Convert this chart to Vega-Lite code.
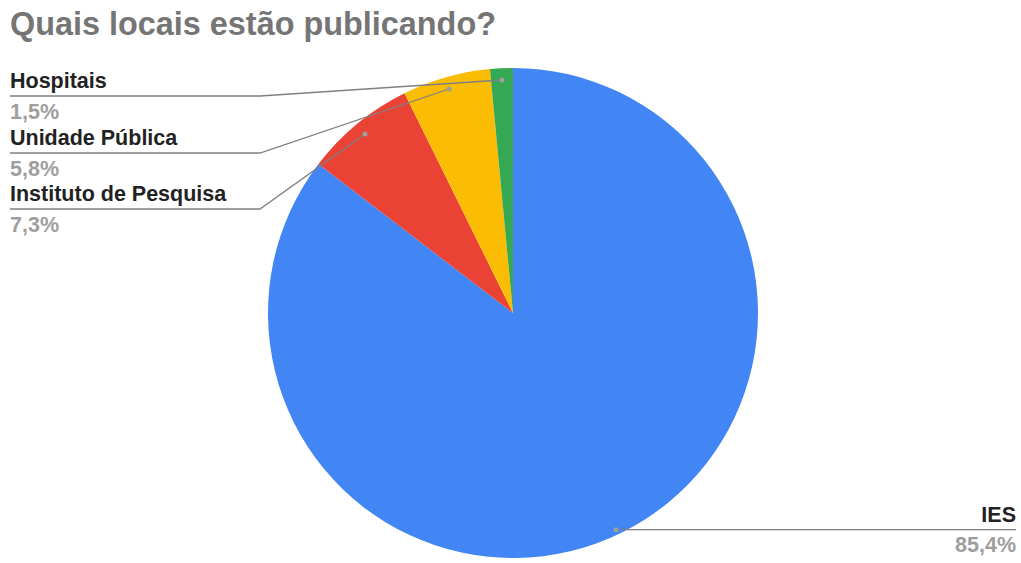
{
  "$schema": "https://vega.github.io/schema/vega-lite/v6.json",
  "width": 490,
  "height": 490,
  "autosize": {"type": "none"},
  "padding": {"left": 268, "top": 68, "right": 263, "bottom": 5},
  "background": "white",
  "config": {"view": {"stroke": null}},
  "title": {
    "text": "Quais locais estão publicando?",
    "anchor": "start",
    "frame": "group",
    "dx": -258,
    "offset": 1,
    "baseline": "alphabetic",
    "font": "Liberation Sans",
    "fontSize": 32.4,
    "fontWeight": "bold",
    "color": "#757575"
  },
  "datasets": {
    "slices": [
      {"local": "IES", "valor": 85.4, "ord": 1},
      {"local": "Instituto de Pesquisa", "valor": 7.3, "ord": 2},
      {"local": "Unidade Pública", "valor": 5.8, "ord": 3},
      {"local": "Hospitais", "valor": 1.5, "ord": 4}
    ],
    "leaders": [
      {"local": "Hospitais", "seq": 1, "u": -2.0531, "v": 0.8857},
      {"local": "Hospitais", "seq": 2, "u": -1.0327, "v": 0.8857},
      {"local": "Hospitais", "seq": 3, "u": -0.0449, "v": 0.951},
      {"local": "Unidade Pública", "seq": 1, "u": -2.0531, "v": 0.6531},
      {"local": "Unidade Pública", "seq": 2, "u": -1.0327, "v": 0.6531},
      {"local": "Unidade Pública", "seq": 3, "u": -0.2612, "v": 0.9143},
      {"local": "Instituto de Pesquisa", "seq": 1, "u": -2.0531, "v": 0.4245},
      {"local": "Instituto de Pesquisa", "seq": 2, "u": -1.0327, "v": 0.4245},
      {"local": "Instituto de Pesquisa", "seq": 3, "u": -0.6041, "v": 0.7306},
      {"local": "IES", "seq": 1, "u": 2.0531, "v": -0.8845},
      {"local": "IES", "seq": 2, "u": 0.4204, "v": -0.8845}
    ],
    "dots": [
      {"local": "Hospitais", "u": -0.0449, "v": 0.951},
      {"local": "Unidade Pública", "u": -0.2612, "v": 0.9143},
      {"local": "Instituto de Pesquisa", "u": -0.6041, "v": 0.7306},
      {"local": "IES", "u": 0.4204, "v": -0.8845}
    ],
    "labelsLeft": [
      {"texto": "Hospitais", "tipo": "nome", "u": -2.0531, "v": 0.9184},
      {"texto": "1,5%", "tipo": "pct", "u": -2.0531, "v": 0.7918},
      {"texto": "Unidade Pública", "tipo": "nome", "u": -2.0531, "v": 0.6857},
      {"texto": "5,8%", "tipo": "pct", "u": -2.0531, "v": 0.5592},
      {"texto": "Instituto de Pesquisa", "tipo": "nome", "u": -2.0531, "v": 0.4571},
      {"texto": "7,3%", "tipo": "pct", "u": -2.0531, "v": 0.3318}
    ],
    "labelsRight": [
      {"texto": "IES", "tipo": "nome", "u": 2.0531, "v": -0.8518},
      {"texto": "85,4%", "tipo": "pct", "u": 2.0531, "v": -0.9743}
    ]
  },
  "layer": [
    {
      "data": {"name": "slices"},
      "mark": {"type": "arc", "outerRadius": 245},
      "encoding": {
        "theta": {"field": "valor", "type": "quantitative", "stack": true},
        "order": {"field": "ord", "type": "quantitative"},
        "color": {
          "field": "local",
          "type": "nominal",
          "scale": {
            "domain": ["IES", "Instituto de Pesquisa", "Unidade Pública", "Hospitais"],
            "range": ["#4285F4", "#EA4335", "#FBBC04", "#34A853"]
          },
          "legend": null
        }
      }
    },
    {
      "data": {"name": "leaders"},
      "mark": {"type": "line", "color": "#7f7f7f", "strokeWidth": 1.3, "clip": false},
      "encoding": {
        "x": {"field": "u", "type": "quantitative", "scale": {"domain": [-1, 1], "nice": false, "zero": false}, "axis": null},
        "y": {"field": "v", "type": "quantitative", "scale": {"domain": [-1, 1], "nice": false, "zero": false}, "axis": null},
        "detail": {"field": "local", "type": "nominal"},
        "order": {"field": "seq", "type": "quantitative"}
      }
    },
    {
      "data": {"name": "dots"},
      "mark": {"type": "point", "filled": true, "color": "#9e9e9e", "size": 25, "opacity": 1},
      "encoding": {
        "x": {"field": "u", "type": "quantitative"},
        "y": {"field": "v", "type": "quantitative"}
      }
    },
    {
      "data": {"name": "labelsLeft"},
      "mark": {"type": "text", "font": "Liberation Sans", "fontSize": 21.5, "fontWeight": "bold", "baseline": "alphabetic", "align": "left"},
      "encoding": {
        "x": {"field": "u", "type": "quantitative"},
        "y": {"field": "v", "type": "quantitative"},
        "text": {"field": "texto", "type": "nominal"},
        "color": {"condition": {"test": "datum.tipo === 'pct'", "value": "#9e9e9e"}, "value": "#222222"}
      }
    },
    {
      "data": {"name": "labelsRight"},
      "mark": {"type": "text", "font": "Liberation Sans", "fontSize": 21.5, "fontWeight": "bold", "baseline": "alphabetic", "align": "right"},
      "encoding": {
        "x": {"field": "u", "type": "quantitative"},
        "y": {"field": "v", "type": "quantitative"},
        "text": {"field": "texto", "type": "nominal"},
        "color": {"condition": {"test": "datum.tipo === 'pct'", "value": "#9e9e9e"}, "value": "#222222"}
      }
    }
  ],
  "resolve": {"scale": {"color": "independent"}}
}
